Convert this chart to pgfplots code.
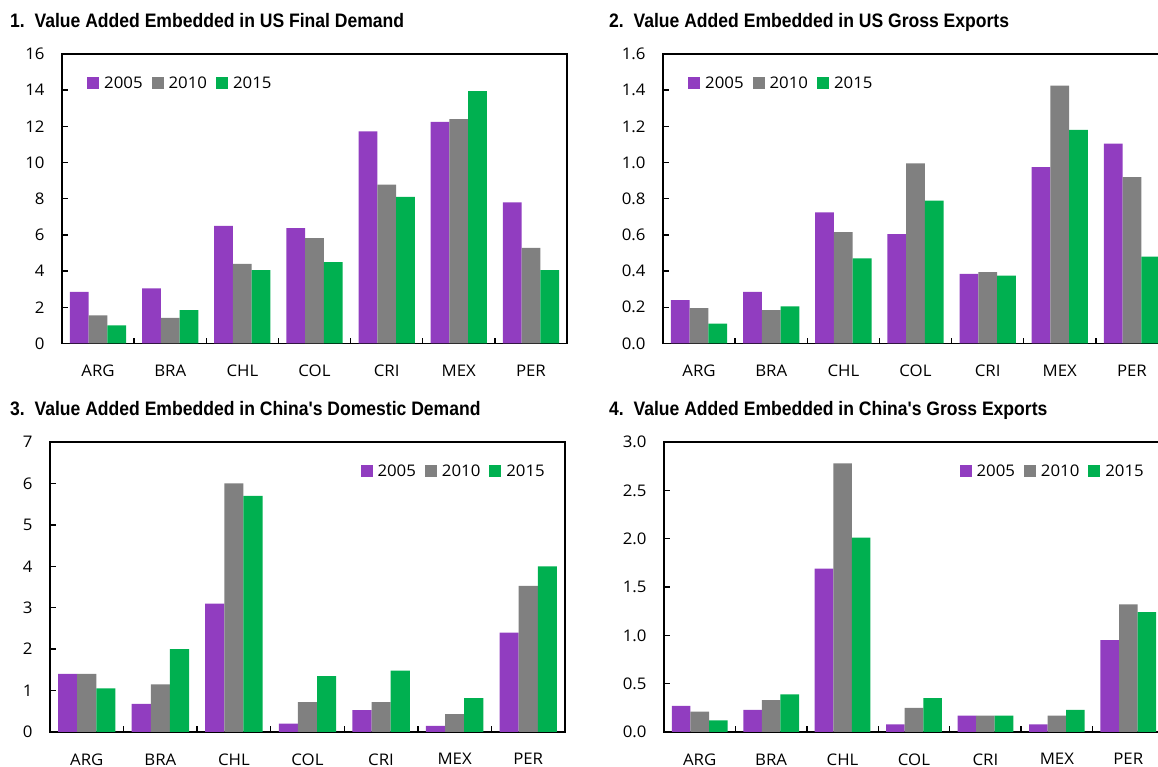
\documentclass[border=0pt]{standalone}
\usepackage{pgfplots}
\pgfplotsset{compat=1.18}
\usepackage{fontspec}
\setmainfont{Open Sans}
\newfontfamily\lab[FakeStretch=1.05]{Open Sans}
\newfontfamily\ttl[FakeStretch=0.9]{Liberation Sans}
\newcommand\labfont{\lab\fontsize{16}{19}\selectfont}
\newcommand\ttlfont{\ttl\bfseries\fontsize{19.5}{22}\selectfont}
\definecolor{cP}{RGB}{145,61,192}
\definecolor{cG}{RGB}{128,128,128}
\definecolor{cN}{RGB}{0,176,80}

\pgfplotsset{
 panel/.style={
  scale only axis, ybar, xmin=-0.5, xmax=6.5, ymin=0,
  bar width=0.26,
  axis line style={line width=1.5pt},
  tick pos=left, tick align=inside,
  major tick length=5.5pt,
  every tick/.style={black, line width=1.5pt},
  xtick={0.5,1.5,...,5.5}, xticklabels={},
  extra x ticks={0,1,2,3,4,5,6},
  extra x tick labels={ARG,BRA,CHL,COL,CRI,MEX,PER},
  extra x tick style={major tick length=0pt},
  xticklabel style={yshift=-18pt},
  yticklabel style={xshift=-14pt},
  tick label style={font=\labfont},
  scaled y ticks=false,
  /pgf/number format/assume math mode=true,
  legend columns=3,
  legend image code/.code={\fill[#1] (0pt,-6pt) rectangle (12pt,6pt);},
  legend style={draw=none, fill=none, inner sep=0pt, font=\labfont,
    nodes={inner sep=2pt},
    /tikz/every odd column/.style={column sep=3pt},
    /tikz/every even column/.style={column sep=7pt}},
 },
 legL/.style={legend style={at={(0,1)}, anchor=west, xshift=25pt, yshift=-29pt}},
 legR/.style={legend style={at={(1,1)}, anchor=east, xshift=-18pt, yshift=-29pt}},
 dec/.style={yticklabel style={/pgf/number format/fixed, /pgf/number format/fixed zerofill, /pgf/number format/precision=1}},
}

\begin{document}
\begin{tikzpicture}[x=1pt,y=1pt]
\path[use as bounding box, clip] (0pt,0pt) rectangle (1158pt,767pt);

% titles
\node[anchor=base west, inner sep=0pt, font=\ttlfont] at (10pt,739pt) {1.\ \ Value Added Embedded in US Final Demand};
\node[anchor=base west, inner sep=0pt, font=\ttlfont] at (609pt,739pt) {2.\ \ Value Added Embedded in US Gross Exports};
\node[anchor=base west, inner sep=0pt, font=\ttlfont] at (10pt,351pt) {3.\ \ Value Added Embedded in China's Domestic Demand};
\node[anchor=base west, inner sep=0pt, font=\ttlfont] at (609pt,351pt) {4.\ \ Value Added Embedded in China's Gross Exports};

% Panel 1
\begin{axis}[panel, legL, at={(62pt,423.5pt)}, anchor=south west, width=505pt, height=289.5pt,
  ymax=16, ytick={0,2,4,6,8,10,12,14,16}]
\addplot[fill=cP, draw=none, bar shift=-0.26] coordinates {(0,2.85) (1,3.05) (2,6.5) (3,6.38) (4,11.72) (5,12.25) (6,7.8)};
\addplot[fill=cG, draw=none, bar shift=0] coordinates {(0,1.55) (1,1.42) (2,4.4) (3,5.82) (4,8.78) (5,12.4) (6,5.28)};
\addplot[fill=cN, draw=none, bar shift=0.26] coordinates {(0,1.0) (1,1.85) (2,4.05) (3,4.5) (4,8.1) (5,13.95) (6,4.05)};
\legend{2005,2010,2015}
\end{axis}

% Panel 2
\begin{axis}[panel, legL, dec, at={(663pt,423.5pt)}, anchor=south west, width=505pt, height=289.5pt,
  ymax=1.6, ytick={0,0.2,0.4,0.6,0.8,1.0,1.2,1.4,1.6}]
\addplot[fill=cP, draw=none, bar shift=-0.26] coordinates {(0,0.24) (1,0.285) (2,0.725) (3,0.605) (4,0.385) (5,0.975) (6,1.105)};
\addplot[fill=cG, draw=none, bar shift=0] coordinates {(0,0.195) (1,0.185) (2,0.615) (3,0.995) (4,0.395) (5,1.425) (6,0.92)};
\addplot[fill=cN, draw=none, bar shift=0.26] coordinates {(0,0.11) (1,0.205) (2,0.47) (3,0.79) (4,0.375) (5,1.18) (6,0.48)};
\legend{2005,2010,2015}
\end{axis}

% Panel 3
\begin{axis}[panel, legR, at={(50pt,35pt)}, anchor=south west, width=515pt, height=290pt,
  ymax=7, ytick={0,1,2,3,4,5,6,7}]
\addplot[fill=cP, draw=none, bar shift=-0.26] coordinates {(0,1.4) (1,0.68) (2,3.1) (3,0.2) (4,0.53) (5,0.15) (6,2.4)};
\addplot[fill=cG, draw=none, bar shift=0] coordinates {(0,1.4) (1,1.15) (2,6.0) (3,0.72) (4,0.72) (5,0.43) (6,3.53)};
\addplot[fill=cN, draw=none, bar shift=0.26] coordinates {(0,1.05) (1,2.0) (2,5.7) (3,1.35) (4,1.48) (5,0.82) (6,4.0)};
\legend{2005,2010,2015}
\end{axis}

% Panel 4
\begin{axis}[panel, legR, dec, at={(664pt,35pt)}, anchor=south west, width=500pt, height=290pt,
  ymax=3, ytick={0,0.5,1.0,1.5,2.0,2.5,3.0}]
\addplot[fill=cP, draw=none, bar shift=-0.26] coordinates {(0,0.27) (1,0.23) (2,1.69) (3,0.08) (4,0.17) (5,0.08) (6,0.95)};
\addplot[fill=cG, draw=none, bar shift=0] coordinates {(0,0.21) (1,0.33) (2,2.78) (3,0.25) (4,0.17) (5,0.17) (6,1.32)};
\addplot[fill=cN, draw=none, bar shift=0.26] coordinates {(0,0.12) (1,0.39) (2,2.01) (3,0.35) (4,0.17) (5,0.23) (6,1.24)};
\legend{2005,2010,2015}
\end{axis}
\end{tikzpicture}
\end{document}
